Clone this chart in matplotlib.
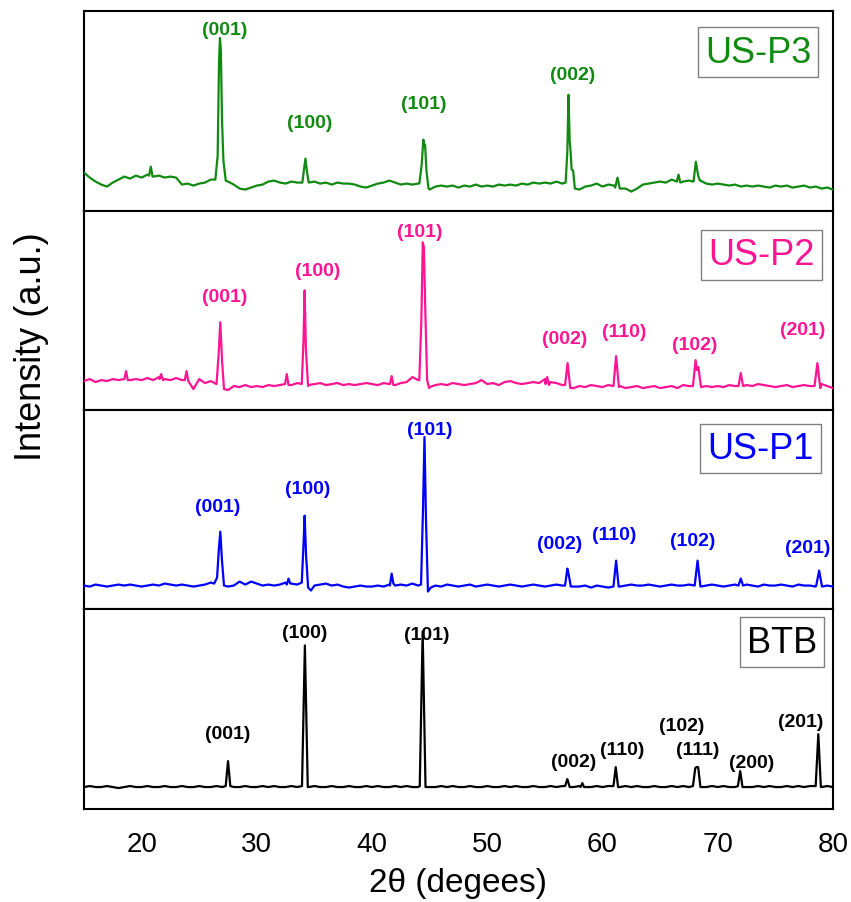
import numpy as np
import matplotlib.pyplot as plt

plt.rcParams['font.family'] = ['Liberation Sans', 'DejaVu Sans']

two_theta = np.arange(15.0, 80.01, 0.5)

base_p3 = [38, 33, 29, 26, 24, 28, 31, 34, 32, 35,
           33, 36, 34, 35, 33, 34, 33, 26, 27, 25,
           27, 28, 31, 31, 30, 29, 26, 22, 21, 23,
           25, 26, 29, 30, 28, 27, 29, 28, 28, 29,
           29, 27, 28, 26, 28, 27, 27, 26, 24, 23,
           25, 27, 28, 30, 28, 26, 27, 26, 27, 27,
           21, 24, 25, 24, 25, 23, 25, 24, 26, 24,
           25, 24, 26, 25, 26, 25, 27, 26, 28, 27,
           28, 27, 29, 27, 28, 28, 21, 24, 25, 27,
           24, 26, 25, 24, 22, 19, 22, 26, 27, 28,
           29, 28, 31, 30, 29, 30, 30, 30, 27, 26,
           27, 26, 25, 26, 24, 25, 24, 25, 24, 23,
           25, 24, 25, 23, 24, 25, 23, 24, 22, 23,
           21]
base_p2 = [29, 31, 28, 30, 29, 31, 30, 32, 30, 31,
           30, 32, 30, 33, 31, 30, 32, 30, 31, 21,
           31, 27, 29, 28, 27, 20, 24, 23, 25, 23,
           24, 23, 25, 24, 25, 26, 25, 27, 26, 25,
           26, 27, 25, 26, 27, 25, 26, 25, 26, 27,
           26, 25, 27, 26, 25, 27, 28, 33, 30, 25,
           23, 25, 26, 25, 27, 26, 25, 26, 27, 30,
           26, 27, 25, 28, 29, 27, 26, 27, 28, 27,
           31, 28, 27, 25, 26, 22, 24, 23, 25, 24,
           23, 25, 26, 24, 22, 23, 24, 22, 23, 24,
           22, 23, 24, 22, 25, 24, 26, 25, 24, 23,
           24, 23, 25, 24, 26, 25, 24, 26, 25, 24,
           23, 24, 25, 23, 24, 25, 24, 25, 26, 24,
           22]
base_p1 = [24, 23, 25, 24, 23, 24, 25, 24, 25, 24,
           23, 24, 25, 24, 26, 25, 24, 25, 24, 23,
           24, 25, 27, 28, 24, 23, 24, 28, 25, 28,
           26, 24, 25, 24, 25, 27, 26, 25, 26, 24,
           24, 25, 26, 24, 25, 23, 22, 23, 24, 23,
           23, 24, 23, 25, 24, 25, 24, 26, 24, 24,
           22, 24, 23, 25, 24, 23, 24, 25, 23, 24,
           25, 24, 23, 24, 25, 24, 23, 24, 25, 24,
           23, 24, 25, 24, 24, 23, 23, 24, 22, 24,
           23, 22, 24, 23, 24, 25, 24, 24, 25, 24,
           23, 24, 25, 24, 24, 25, 24, 23, 24, 25,
           24, 23, 24, 25, 24, 25, 24, 23, 25, 24,
           24, 25, 24, 23, 25, 24, 24, 23, 24, 24,
           23]
base_btb = [22, 23, 22, 22, 23, 22, 21, 22, 23, 22,
            22, 23, 22, 22, 23, 22, 22, 23, 22, 22,
            23, 22, 22, 23, 22, 23, 22, 22, 23, 22,
            22, 23, 22, 23, 22, 22, 23, 22, 23, 22,
            23, 22, 22, 23, 22, 22, 23, 22, 22, 23,
            22, 23, 22, 22, 23, 22, 23, 22, 22, 23,
            22, 22, 23, 22, 23, 22, 22, 23, 22, 22,
            23, 22, 22, 23, 22, 23, 22, 22, 23, 22,
            22, 23, 22, 23, 22, 22, 23, 22, 22, 23,
            22, 23, 22, 22, 23, 22, 23, 22, 22, 23,
            22, 22, 23, 22, 23, 22, 22, 23, 22, 23,
            22, 23, 22, 22, 23, 22, 22, 23, 22, 23,
            22, 22, 23, 22, 23, 22, 23, 22, 22, 23,
            22]

# peak profiles (2theta, intensity)
peaks_p3 = [
    [(20.65, 35), (20.8, 44), (20.95, 34)],
    [(26.4, 31), (26.6, 55), (26.72, 150), (26.8, 173), (26.88, 160), (26.98, 90), (27.1, 50), (27.3, 30)],
    [(33.95, 28), (34.1, 42), (34.22, 52), (34.34, 40), (34.5, 28)],
    [(44.1, 27), (44.3, 45), (44.45, 71), (44.55, 64), (44.6, 66), (44.72, 40), (44.9, 22)],
    [(56.8, 28), (56.95, 60), (57.05, 116), (57.15, 70), (57.22, 61), (57.32, 41), (57.45, 40), (57.6, 22)],
    [(61.1, 23), (61.3, 33), (61.5, 22)],
    [(66.45, 29), (66.6, 36), (66.75, 28)],
    [(67.9, 29), (68.1, 49), (68.3, 35), (68.45, 30)],
]
peaks_p2 = [
    [(18.5, 31), (18.65, 39), (18.8, 30)],
    [(21.55, 31), (21.7, 36), (21.85, 30)],
    [(23.75, 30), (23.9, 39), (24.05, 29)],
    [(26.5, 26), (26.68, 55), (26.83, 88), (26.98, 50), (27.15, 21)],
    [(32.45, 26), (32.6, 36), (32.75, 25)],
    [(33.9, 26), (34.05, 70), (34.15, 120), (34.26, 60), (34.45, 24)],
    [(41.55, 26), (41.7, 34), (41.85, 25)],
    [(44.1, 30), (44.28, 90), (44.4, 168), (44.5, 163), (44.62, 100), (44.78, 30), (44.95, 22)],
    [(55.05, 26), (55.2, 33), (55.35, 25)],
    [(56.75, 25), (56.97, 47), (57.2, 22)],
    [(60.95, 24), (61.18, 54), (61.42, 23)],
    [(67.85, 24), (68.08, 50), (68.2, 40), (68.32, 43), (68.55, 23)],
    [(71.8, 24), (72.0, 37), (72.2, 24)],
    [(78.4, 24), (78.65, 47), (78.9, 22)],
]
peaks_p1 = [
    [(26.3, 26), (26.55, 32), (26.7, 60), (26.83, 78), (26.97, 50), (27.15, 24)],
    [(32.6, 25), (32.75, 31), (32.9, 26)],
    [(33.9, 27), (34.05, 65), (34.15, 94), (34.27, 55), (34.45, 22), (34.7, 19)],
    [(41.55, 24), (41.7, 36), (41.85, 26)],
    [(44.25, 25), (44.42, 100), (44.55, 173), (44.68, 90), (44.85, 18), (45.1, 22)],
    [(56.75, 24), (56.95, 41), (57.05, 36), (57.25, 23)],
    [(60.95, 23), (61.18, 49), (61.4, 23)],
    [(68.0, 24), (68.25, 49), (68.5, 23)],
    [(71.8, 24), (72.0, 31), (72.2, 24)],
    [(78.55, 24), (78.8, 39), (79.05, 23)],
]
peaks_btb = [
    [(27.3, 23), (27.5, 48), (27.7, 23)],
    [(33.92, 23), (34.17, 164), (34.42, 22)],
    [(44.14, 23), (44.39, 178), (44.64, 22)],
    [(56.75, 23), (56.95, 30), (57.15, 22)],
    [(58.1, 22), (58.25, 26), (58.4, 22)],
    [(60.95, 23), (61.15, 42), (61.35, 22)],
    [(67.85, 23), (68.05, 41), (68.15, 42), (68.3, 42), (68.5, 22)],
    [(71.75, 23), (71.95, 38), (72.15, 22)],
    [(78.5, 23), (78.73, 75), (78.95, 22)],
]

# Miller index labels: (text, 2theta, height)
labels_p3 = [("(001)", 27.2, 181), ("(100)", 34.55, 88), ("(101)", 44.5, 107), ("(002)", 57.4, 136)]
labels_p2 = [("(001)", 27.25, 114), ("(100)", 35.3, 140), ("(101)", 44.1, 179), ("(002)", 56.7, 72),
             ("(110)", 61.9, 79), ("(102)", 68.0, 66), ("(201)", 77.4, 81)]
labels_p1 = [("(001)", 26.6, 103), ("(100)", 34.45, 121), ("(101)", 45.05, 180), ("(002)", 56.3, 66),
             ("(110)", 61.0, 75), ("(102)", 67.8, 69), ("(201)", 77.8, 62)]
labels_btb = [("(001)", 27.5, 76), ("(100)", 34.15, 177), ("(101)", 44.75, 175), ("(002)", 57.5, 48),
              ("(110)", 61.75, 60), ("(102)", 66.9, 84), ("(111)", 68.3, 60), ("(200)", 72.9, 47),
              ("(201)", 77.2, 88)]

samples = [
    ("US-P3", base_p3, peaks_p3, labels_p3, "#108a10", (0.900, 0.794)),
    ("US-P2", base_p2, peaks_p2, labels_p2, "#ff1493", (0.904, 0.778)),
    ("US-P1", base_p1, peaks_p1, labels_p1, "#0000ff", (0.903, 0.808)),
    ("BTB", base_btb, peaks_btb, labels_btb, "#000000", (0.932, 0.837)),
]


def pattern(base, peaks):
    x = np.array(two_theta)
    y = np.array(base, dtype=float)
    keep = np.ones(len(x), dtype=bool)
    px, py = [], []
    for pk in peaks:
        pk = np.array(pk)
        keep &= (x < pk[0, 0]) | (x > pk[-1, 0])
        px.extend(pk[:, 0])
        py.extend(pk[:, 1])
    x = np.concatenate([x[keep], px])
    y = np.concatenate([y[keep], py])
    order = np.argsort(x)
    return x[order], y[order]


fig = plt.figure(figsize=(8.51, 9.03), dpi=100)
axes = fig.subplots(4, 1, sharex=True)
fig.subplots_adjust(left=0.0987, right=0.9788, bottom=0.103, top=0.9867, hspace=0)

for ax, (name, base, peaks, labels, color, boxpos) in zip(axes, samples):
    x, y = pattern(base, peaks)
    ax.plot(x, y, color=color, lw=1.6, zorder=3)
    for txt, xx, yy in labels:
        ax.text(xx, yy, txt, color=color, fontsize=14, fontweight='bold',
                ha='center', va='center', zorder=2)
    ax.text(boxpos[0], boxpos[1], name, transform=ax.transAxes, color=color,
            fontsize=26, ha='center', va='center',
            bbox=dict(boxstyle='square,pad=0.2', fc='white', ec='#808080', lw=1))
    ax.set_ylim(0, 200)
    ax.set_yticks([])
    for sp in ax.spines.values():
        sp.set_linewidth(1.5)

axes[-1].set_xlim(15, 80)
axes[-1].set_xticks([20, 30, 40, 50, 60, 70, 80])
axes[-1].tick_params(axis='x', length=0, pad=16, labelsize=20)
for ax in axes[:-1]:
    ax.tick_params(axis='x', length=0, labelbottom=False)

axes[-1].set_xlabel('2θ (degees)', fontsize=24)
axes[-1].xaxis.set_label_coords(0.4987, -0.29)
fig.text(31.7 / 851, 1 - 346.5 / 903, 'Intensity (a.u.)', rotation=90,
         fontsize=26, ha='center', va='center')

fig.savefig('out.png', dpi=100)
